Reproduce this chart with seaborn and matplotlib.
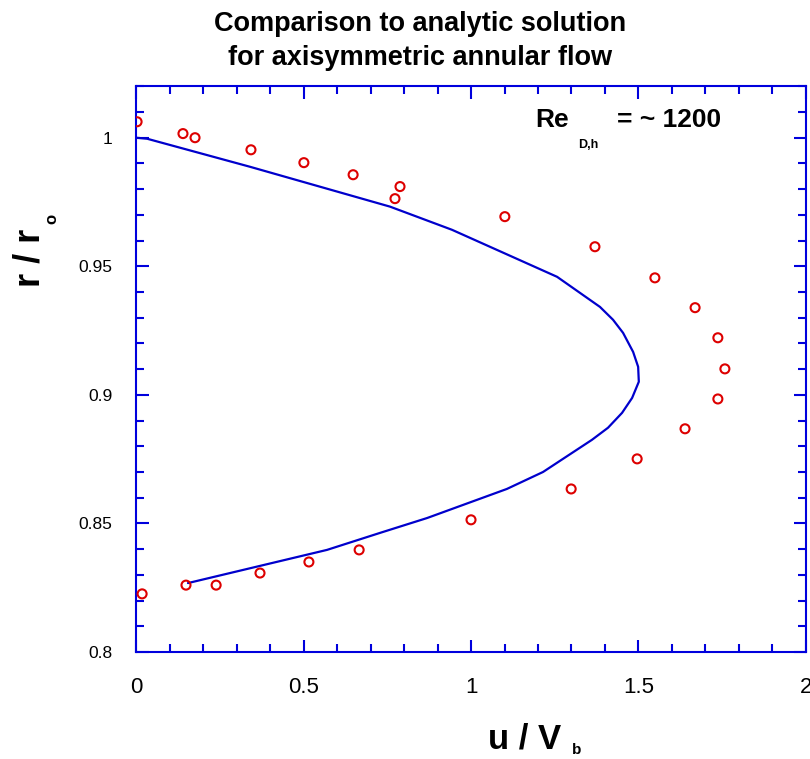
import numpy as np
import pandas as pd
import seaborn as sns
import matplotlib.pyplot as plt
from matplotlib.ticker import MultipleLocator

# measured velocity profile (circles)
u_meas = [0.003, 0.14, 0.176, 0.343, 0.501, 0.648, 0.788, 0.773, 1.101, 1.37,
          1.549, 1.669, 1.737, 1.758, 1.737, 1.639, 1.496, 1.299, 1.0, 0.666,
          0.516, 0.370, 0.239, 0.149, 0.018]
r_meas = [1.0062, 1.0016, 1.0, 0.9953, 0.9903, 0.9856, 0.981, 0.9763, 0.9693, 0.9576,
          0.9455, 0.9339, 0.9222, 0.9101, 0.8984, 0.8868, 0.8751, 0.8634, 0.8514, 0.8397,
          0.835, 0.8307, 0.826, 0.826, 0.8226]

# analytic solution (line)
u_anal = [0.0, 0.033, 0.340, 0.758, 0.943, 1.257, 1.385, 1.424, 1.454, 1.484,
          1.499, 1.501, 1.481, 1.451, 1.409, 1.361, 1.215, 1.107, 0.869, 0.728,
          0.570, 0.155]
r_anal = [1.0, 0.9996, 0.9887, 0.9732, 0.9642, 0.9459, 0.9342, 0.9292, 0.9241, 0.9167,
          0.9109, 0.9051, 0.8988, 0.893, 0.8872, 0.8825, 0.870, 0.8634, 0.8521, 0.8463,
          0.8397, 0.8268]

meas = pd.DataFrame({"u": u_meas, "r": r_meas})
anal = pd.DataFrame({"u": u_anal, "r": r_anal})

sns.set_style("ticks")
plt.rcParams['font.family'] = ['Liberation Sans', 'DejaVu Sans']
plt.rcParams['text.color'] = 'black'
plt.rcParams['xtick.labelcolor'] = 'black'
plt.rcParams['ytick.labelcolor'] = 'black'

blue = '#0000dd'
fig = plt.figure(figsize=(8.1, 7.59), dpi=100)
ax = fig.add_axes([0.168, 0.141, 0.827, 0.746])

sns.lineplot(data=anal, x="u", y="r", sort=False, estimator=None,
             color='#0000cc', linewidth=1.6, ax=ax)
sns.scatterplot(data=meas, x="u", y="r", marker='o', s=42,
                facecolor='none', edgecolor='#dd0000', linewidth=1.5, ax=ax, zorder=3)

ax.set_xlim(0, 2)
ax.set_ylim(0.8, 1.0202)
ax.xaxis.set_minor_locator(MultipleLocator(0.1))
ax.yaxis.set_minor_locator(MultipleLocator(0.01))
ax.set_xticks([0, 0.5, 1, 1.5, 2])
ax.set_xticklabels(['0', '0.5', '1', '1.5', '2'])
ax.set_yticks([0.8, 0.85, 0.9, 0.95, 1.0])
ax.set_yticklabels(['0.8', '0.85', '0.9', '0.95', '1'])

for side in ax.spines.values():
    side.set_color(blue)
    side.set_linewidth(1.5)
ax.tick_params(which='both', direction='in', top=True, right=True, color=blue, width=1.5,
               labelcolor='black')
ax.tick_params(which='major', length=9)
ax.tick_params(which='minor', length=6)
ax.tick_params(axis='x', which='major', labelsize=16, pad=18)
ax.tick_params(axis='y', which='major', labelsize=12.5, pad=17)

ax.set_xlabel('')
ax.set_ylabel('')

# axis labels with subscripts
fig.text(0.647, 0.027, 'u / V', fontsize=25, fontweight='bold', ha='center', va='center')
fig.text(0.706, 0.012, 'b', fontsize=11, fontweight='bold', ha='left', va='center')
fig.text(0.037, 0.66, 'r / r', fontsize=26, fontweight='bold', rotation=90, ha='center', va='center')
fig.text(0.064, 0.712, 'o', fontsize=12, fontweight='bold', rotation=90, ha='center', va='center')

# Reynolds number annotation
ax.text(0.596, 0.94, 'Re', fontsize=19, fontweight='bold', transform=ax.transAxes, va='center')
ax.text(0.66, 0.896, 'D,h', fontsize=9, fontweight='bold', transform=ax.transAxes, va='center')
ax.text(0.718, 0.94, '= ~ 1200', fontsize=19, fontweight='bold', transform=ax.transAxes, va='center')

fig.text(0.518, 0.969, 'Comparison to analytic solution', fontsize=19.5, fontweight='bold',
         ha='center', va='center')
fig.text(0.518, 0.923, 'for axisymmetric annular flow', fontsize=19.5, fontweight='bold',
         ha='center', va='center')

fig.savefig('out.png', dpi=100)
